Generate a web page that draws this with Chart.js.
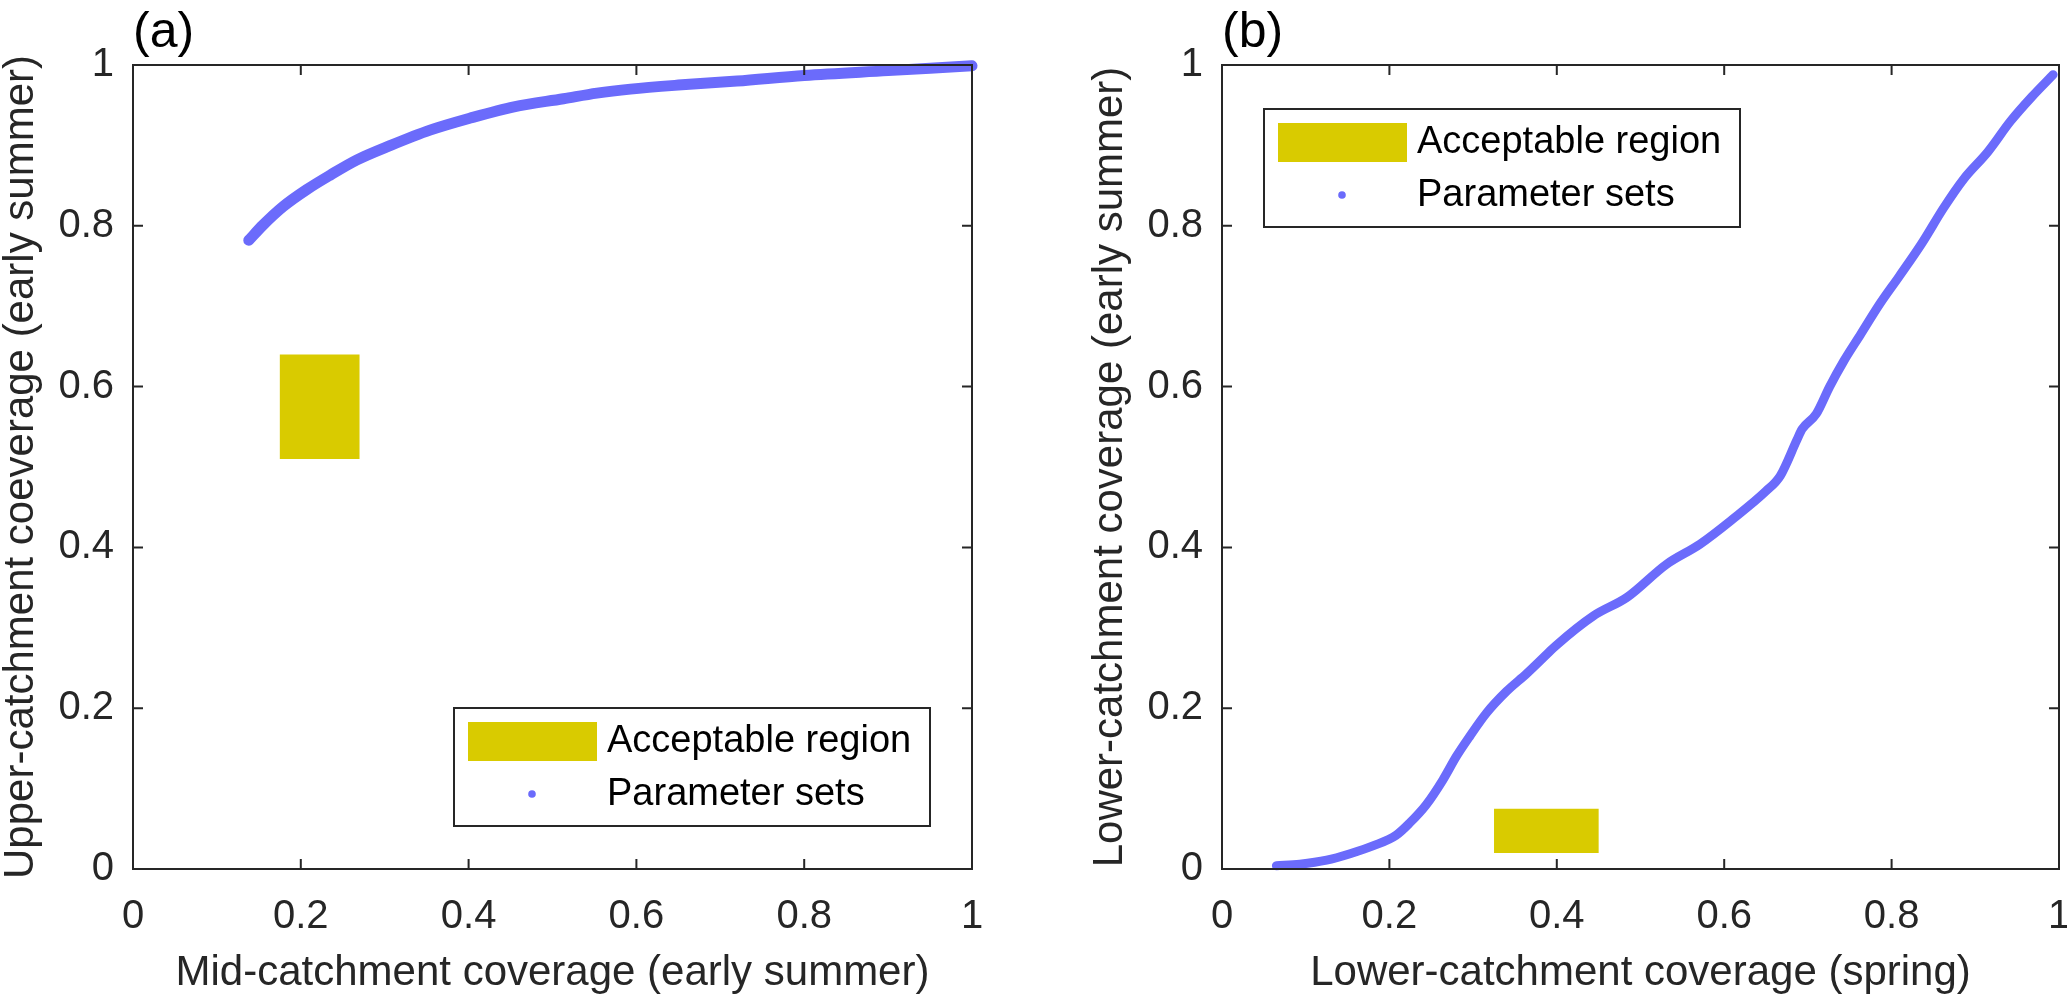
<!DOCTYPE html>
<html><head><meta charset="utf-8">
<script src="https://cdn.jsdelivr.net/npm/chart.js@4.4.0/dist/chart.umd.min.js"></script>
<style>
html,body{margin:0;padding:0;background:#fff;width:2067px;height:1000px;overflow:hidden}
.wrap{position:absolute;top:0;height:1000px}
#wa{left:0;width:1000px}
#wb{left:1089px;width:978px}
canvas{display:block}
</style></head><body>
<div class="wrap" id="wa"><canvas id="ca" width="1000" height="1000"></canvas></div>
<div class="wrap" id="wb"><canvas id="cb" width="978" height="1000"></canvas></div>
<script>
// ---------- data ----------
const panelTitles = ['(a)', '(b)'];
const xTitles = ['Mid-catchment coverage (early summer)', 'Lower-catchment coverage (spring)'];
const yTitles = ['Upper-catchment coeverage (early summer)', 'Lower-catchment coverage (early summer)'];
const legendLabels = ['Acceptable region', 'Parameter sets'];
const tickValues = [0, 0.2, 0.4, 0.6, 0.8, 1];
const tickLabels = ['0', '0.2', '0.4', '0.6', '0.8', '1'];

// panel (a): parameter sets
const aX = [0.138, 0.155, 0.179, 0.207, 0.235, 0.267, 0.307, 0.354, 0.402, 0.454, 0.513, 0.553, 0.593, 0.65, 0.72, 0.8, 0.9, 1.0];
const aY = [0.782, 0.801, 0.824, 0.845, 0.863, 0.882, 0.900, 0.919, 0.934, 0.948, 0.958, 0.965, 0.970, 0.975, 0.980, 0.987, 0.993, 0.999];
// panel (a): acceptable region
const regionAX = [0.175, 0.27];
const regionAY = [0.51, 0.64];

// panel (b): parameter sets
const bX = [0.065, 0.093, 0.125, 0.153, 0.181, 0.208, 0.224, 0.244, 0.264, 0.280, 0.296, 0.316, 0.340, 0.364, 0.389,
            0.398, 0.444, 0.484, 0.531, 0.571, 0.610, 0.650, 0.667, 0.687, 0.693, 0.710, 0.726, 0.743, 0.763,
            0.786, 0.809, 0.836, 0.862, 0.886, 0.915, 0.942, 0.968, 0.993];
const bY = [0.004, 0.006, 0.011, 0.019, 0.029, 0.042, 0.057, 0.080, 0.111, 0.140, 0.165, 0.194, 0.221, 0.243, 0.268,
            0.277, 0.315, 0.338, 0.379, 0.404, 0.435, 0.470, 0.489, 0.534, 0.547, 0.566, 0.600, 0.632, 0.665,
            0.703, 0.737, 0.778, 0.822, 0.858, 0.892, 0.930, 0.961, 0.988];
// panel (b): acceptable region
const regionBX = [0.325, 0.45];
const regionBY = [0.02, 0.075];

// ---------- styling ----------
const FONT = "'Liberation Sans', Arial, Helvetica, sans-serif";
const AXIS_COLOR = '#262626';
const BLUE = '#6b6bfb';
const YELLOW = '#d9cb00';

function pts(xs, ys) { return xs.map((x, i) => ({x: x, y: ys[i]})); }
function rectPts(xr, yr) {
  return [{x: xr[0], y: yr[0]}, {x: xr[1], y: yr[0]}, {x: xr[1], y: yr[1]}, {x: xr[0], y: yr[1]}, {x: xr[0], y: yr[0]}];
}
function tickLabel(v) {
  const i = tickValues.findIndex(t => Math.abs(t - v) < 1e-9);
  return i >= 0 ? tickLabels[i] : '';
}

// frame on top/right and inward tick marks on all four sides
const framePlugin = {
  id: 'frame',
  afterDatasetsDraw(chart) {
    const {ctx, chartArea: a, scales: {x, y}} = chart;
    ctx.save();
    ctx.strokeStyle = AXIS_COLOR;
    ctx.lineWidth = 2;
    ctx.beginPath();
    ctx.moveTo(a.left, a.top); ctx.lineTo(a.right, a.top); ctx.lineTo(a.right, a.bottom);
    ctx.moveTo(a.left, a.top); ctx.lineTo(a.left, a.bottom); ctx.lineTo(a.right, a.bottom);
    const L = 10;
    x.ticks.forEach(t => {
      const px = x.getPixelForValue(t.value);
      ctx.moveTo(px, a.bottom); ctx.lineTo(px, a.bottom - L);
      ctx.moveTo(px, a.top); ctx.lineTo(px, a.top + L);
    });
    y.ticks.forEach(t => {
      const py = y.getPixelForValue(t.value);
      ctx.moveTo(a.left, py); ctx.lineTo(a.left + L, py);
      ctx.moveTo(a.right, py); ctx.lineTo(a.right - L, py);
    });
    ctx.stroke();
    ctx.restore();
  }
};

// MATLAB-like legend box
const boxLegendPlugin = {
  id: 'boxLegend',
  afterDraw(chart, args, opts) {
    const {ctx, chartArea: a} = chart;
    const W = 476, H = 118;
    let L, T;
    if (opts.corner === 'se') { L = a.right - 42 - W; T = a.bottom - 43 - H; }
    else { L = a.left + 42; T = a.top + 44; }
    ctx.save();
    ctx.fillStyle = '#ffffff';
    ctx.fillRect(L, T, W, H);
    ctx.strokeStyle = '#262626';
    ctx.lineWidth = 2;
    ctx.strokeRect(L, T, W, H);
    ctx.fillStyle = YELLOW;
    ctx.fillRect(L + 14, T + 14, 129, 39);
    ctx.fillStyle = BLUE;
    ctx.beginPath();
    ctx.arc(L + 78, T + 86, 3.8, 0, Math.PI * 2);
    ctx.fill();
    ctx.fillStyle = '#000000';
    ctx.font = '38px ' + FONT;
    ctx.textBaseline = 'middle';
    ctx.textAlign = 'left';
    ctx.fillText(legendLabels[0], L + 153, T + 34);
    ctx.fillText(legendLabels[1], L + 153, T + 87);
    ctx.restore();
  }
};

function makeChart(id, idx, curveX, curveY, rx, ry, padRight, corner, lw) {
  return new Chart(document.getElementById(id), {
    type: 'scatter',
    data: {
      datasets: [
        {
          label: legendLabels[0],
          data: rectPts(rx, ry),
          showLine: true,
          fill: 'shape',
          backgroundColor: YELLOW,
          borderColor: YELLOW,
          borderWidth: 0,
          pointRadius: 0,
          tension: 0
        },
        {
          label: legendLabels[1],
          data: pts(curveX, curveY),
          showLine: true,
          borderColor: BLUE,
          backgroundColor: BLUE,
          borderWidth: lw,
          borderCapStyle: 'round',
          borderJoinStyle: 'round',
          pointRadius: 0,
          cubicInterpolationMode: 'monotone',
          clip: false
        }
      ]
    },
    options: {
      responsive: false,
      animation: false,
      events: [],
      layout: {padding: {left: 0, right: padRight, top: 0, bottom: 0}},
      scales: {
        x: {
          type: 'linear', min: 0, max: 1,
          afterFit: s => { s.height = 131; s.paddingLeft = 0; s.paddingRight = 0; },
          afterBuildTicks: s => { s.ticks = tickValues.map(v => ({value: v})); },
          grid: {display: false, drawTicks: false},
          border: {display: true, color: AXIS_COLOR, width: 2},
          ticks: {color: AXIS_COLOR, padding: 24, maxRotation: 0, callback: v => tickLabel(v),
                  font: {family: FONT, size: 40, lineHeight: 1.2}},
          title: {display: true, text: xTitles[idx], color: AXIS_COLOR,
                  font: {family: FONT, size: 42, lineHeight: 1}, padding: {top: 0, bottom: 6}}
        },
        y: {
          type: 'linear', min: 0, max: 1,
          afterFit: s => { s.width = 133; s.paddingTop = 0; s.paddingBottom = 0; },
          afterBuildTicks: s => { s.ticks = tickValues.map(v => ({value: v})); },
          grid: {display: false, drawTicks: false},
          border: {display: true, color: AXIS_COLOR, width: 2},
          ticks: {color: AXIS_COLOR, padding: 19, callback: v => tickLabel(v),
                  font: {family: FONT, size: 40, lineHeight: 1.2}},
          title: {display: true, text: yTitles[idx], color: AXIS_COLOR,
                  font: {family: FONT, size: 42, lineHeight: 1}, padding: {top: 0, bottom: 0}}
        }
      },
      plugins: {
        legend: {display: false},
        tooltip: {enabled: false},
        title: {display: true, text: panelTitles[idx], align: 'start', fullSize: false, color: '#000',
                font: {family: FONT, size: 50, lineHeight: 1.2, weight: 'normal'}, padding: {top: 3, bottom: 2}},
        boxLegend: {corner: corner}
      }
    },
    plugins: [framePlugin, boxLegendPlugin]
  });
}

makeChart('ca', 0, aX, aY, regionAX, regionAY, 28, 'se', 11);
makeChart('cb', 1, bX, bY, regionBX, regionBY, 8, 'nw', 9);
</script>
</body></html>
